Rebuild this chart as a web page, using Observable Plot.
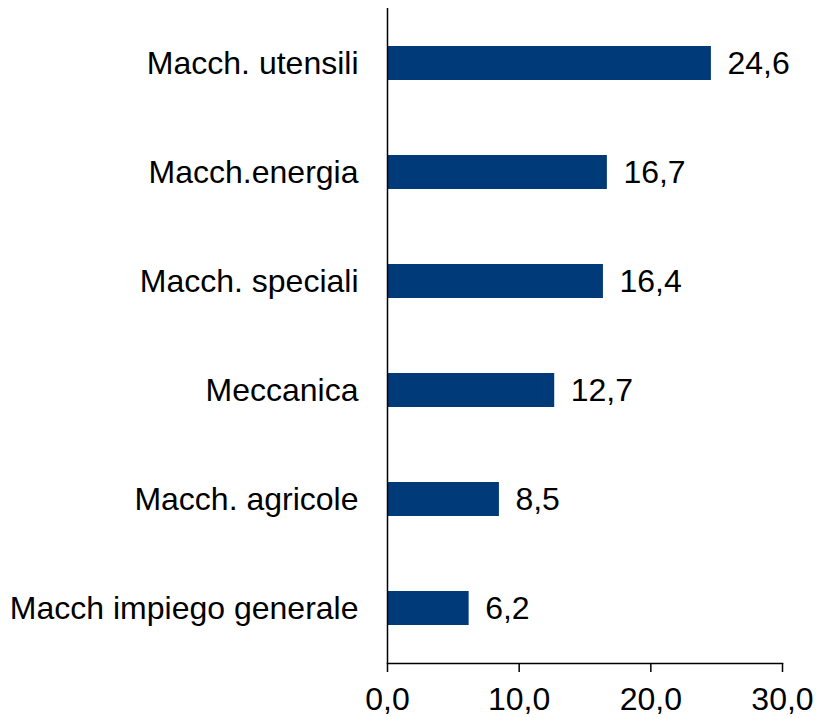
<!DOCTYPE html>
<html><head><meta charset="utf-8">
<script src="https://cdn.jsdelivr.net/npm/d3@7"></script>
<script src="https://cdn.jsdelivr.net/npm/@observablehq/plot@0.6"></script>
<style>
body{margin:0;background:#fff;}
svg{font-family:"Liberation Sans",Arial,sans-serif;}
</style></head><body>
<div id="chart"></div>
<script>
const categories = ["Macch. utensili","Macch.energia","Macch. speciali","Meccanica","Macch. agricole","Macch impiego generale"];
const values = [24.6,16.7,16.4,12.7,8.5,6.2];
const xTicks = [0,10,20,30];
const data = categories.map((c,i)=>({cat:c, v:values[i]}));
const fmt = d => d.toFixed(1).replace(".", ",");
const chart = Plot.plot({
  width: 816, height: 718,
  marginLeft: 387, marginRight: 34, marginTop: 8, marginBottom: 55,
  style: {fontFamily: '"Liberation Sans",Arial,sans-serif', fontSize: "32px", color: "#000", background: "#fff"},
  x: {domain: [0,30], ticks: xTicks, tickFormat: fmt},
  y: {domain: categories, paddingInner: 0.69, paddingOuter: 0.345},
  marks: [
    Plot.barX(data, {x: "v", y: "cat", fill: "#013a78"}),
    Plot.text(data, {x: "v", y: "cat", text: d => fmt(d.v), textAnchor: "start", dx: 16, fill: "#000", fontSize: 32}),
    Plot.ruleX([0], {stroke: "#000", strokeWidth: 1.5}),
    Plot.frame({anchor: "bottom", stroke: "#000", strokeWidth: 1.5}),
    Plot.axisX({ticks: xTicks, tickFormat: fmt, tickSize: 9, tickPadding: 15, fontSize: 32, label: null, stroke: "#000", strokeWidth: 1.5}),
    Plot.axisY({tickSize: 0, tickPadding: 29, fontSize: 32, label: null})
  ]
});
document.getElementById("chart").appendChild(chart);
</script></body></html>
